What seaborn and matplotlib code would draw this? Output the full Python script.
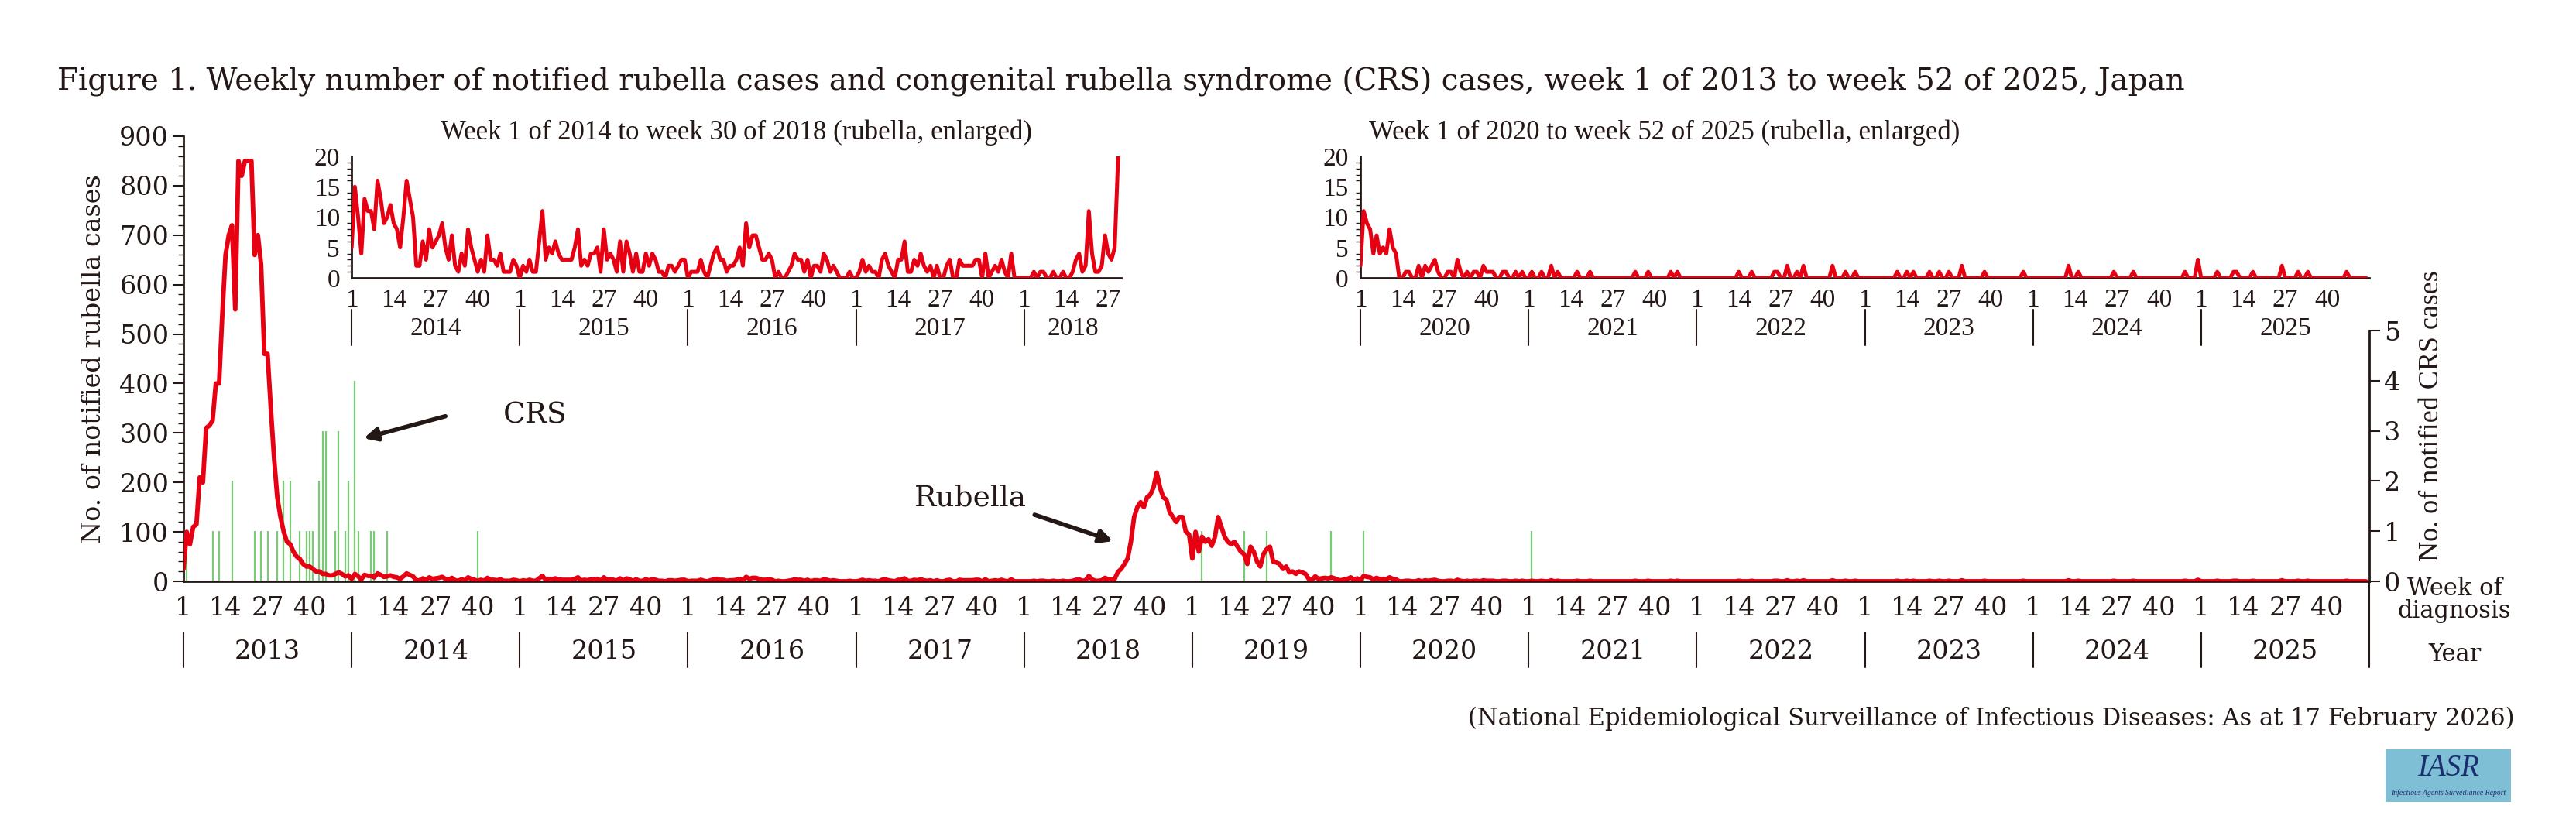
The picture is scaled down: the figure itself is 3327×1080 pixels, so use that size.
import matplotlib
matplotlib.use("Agg")
import matplotlib.pyplot as plt
import matplotlib.transforms as mtransforms
from matplotlib.patches import Rectangle
import numpy as np
import pandas as pd
import seaborn as sns

# weekly rubella cases (dense years)
rub_2013 = [25, 100, 75, 110, 115, 210, 200, 310, 315, 325, 400, 400, 540, 660, 700, 720, 550, 850, 820, 850,
            850, 850, 660, 700, 640, 460, 460, 350, 250, 170, 130, 100, 80, 75, 60, 50, 45, 35, 30, 30,
            25, 20, 20, 15, 15, 12, 12, 15, 18, 15, 10, 12]
rub_2014 = [5, 15, 10, 4, 13, 11, 11, 8, 16, 13, 9, 10, 12, 9, 8, 5, 10, 16, 13, 10, 2, 2, 6, 3, 8, 5,
            6, 7, 9, 5, 3, 7, 2, 1, 4, 2, 8, 5, 3, 1, 3, 1, 7, 3, 3, 2, 4, 1, 1, 1, 3, 2]
rub_2015 = [0, 2, 1, 3, 1, 1, 6, 11, 3, 5, 4, 6, 4, 3, 3, 3, 3, 5, 8, 2, 3, 2, 4, 4, 5, 1,
            8, 3, 4, 3, 1, 6, 1, 6, 4, 1, 4, 1, 1, 4, 2, 4, 3, 1, 1, 0, 2, 2, 1, 2, 3, 3]
rub_2016 = [0, 1, 1, 1, 3, 1, 0, 2, 4, 5, 3, 3, 1, 2, 2, 3, 5, 2, 9, 5, 7, 7, 5, 3, 3, 4,
            3, 0, 1, 0, 0, 1, 2, 4, 3, 3, 1, 3, 0, 2, 2, 1, 4, 3, 1, 2, 1, 0, 0, 0, 1, 0]
rub_2017 = [0, 1, 3, 1, 2, 1, 1, 0, 3, 4, 2, 1, 0, 3, 3, 6, 1, 1, 3, 2, 4, 2, 1, 2, 0, 2,
            0, 0, 2, 3, 0, 0, 3, 2, 2, 2, 2, 3, 3, 0, 4, 0, 1, 2, 1, 3, 1, 0, 4, 0, 0, 0]
rub_2018 = [0, 0, 0, 1, 0, 1, 1, 0, 0, 1, 0, 0, 1, 0, 0, 1, 3, 4, 1, 2, 11, 4, 1, 1, 2, 7,
            4, 3, 5, 19, 25, 35, 46, 80, 130, 150, 160, 150, 170, 175, 190, 220, 190, 170, 165, 140,
            130, 120, 130, 130, 100, 95]
rub_2019 = [46, 100, 60, 90, 80, 85, 72, 90, 130, 110, 90, 80, 75, 80, 70, 60, 55, 35, 70, 60,
            40, 30, 55, 65, 70, 40, 38, 35, 25, 30, 18, 20, 15, 20, 18, 15, 5, 3, 10, 5,
            6, 7, 6, 8, 6, 3, 2, 4, 5, 8, 3, 6]
rub_2020 = [2, 11, 9, 8, 4, 7, 4, 5, 4, 8, 5, 4, 0, 0, 1, 1, 0, 0, 2, 0, 2, 1, 2, 3, 1, 0,
            0, 1, 1, 0, 3, 1, 0, 1, 0, 1, 1, 0, 2, 1, 1, 1, 0, 0, 1, 1, 0, 0, 1, 0, 1, 0]
# sparse years: {week: cases}, other weeks 0
rub_2021 = {2: 1, 5: 1, 8: 2, 10: 1, 16: 1, 20: 1, 34: 1, 38: 1, 45: 1, 47: 1}
rub_2022 = {14: 1, 18: 1, 25: 1, 26: 1, 29: 2, 32: 1, 34: 2, 43: 2, 47: 1, 50: 1}
rub_2023 = {11: 1, 14: 1, 16: 1, 21: 1, 24: 1, 27: 1, 31: 2, 38: 1, 50: 1}
rub_2024 = {12: 2, 15: 1, 26: 1, 32: 1, 48: 1, 52: 3}
rub_2025 = {6: 1, 11: 1, 12: 1, 17: 1, 26: 2, 31: 1, 34: 1, 46: 1}

# CRS cases: (year, week, cases)
crs_year = [2013] * 21 + [2014] * 6 + [2019] * 4 + [2020, 2021]
crs_week = [2, 10, 12, 16, 23, 25, 27, 30, 32, 34, 37, 39, 40, 41, 43, 44, 45, 48, 49, 51, 52,
            2, 3, 7, 8, 12, 40, 4, 17, 24, 44, 2, 2]
crs_cases = [1, 1, 1, 2, 1, 1, 1, 1, 2, 2, 1, 1, 1, 1, 2, 3, 3, 1, 3, 1, 2,
             4, 1, 1, 1, 1, 1, 1, 1, 1, 1, 1, 1]

week_ticks = [1, 14, 27, 40]

dense = {2013: rub_2013, 2014: rub_2014, 2015: rub_2015, 2016: rub_2016, 2017: rub_2017,
         2018: rub_2018, 2019: rub_2019, 2020: rub_2020}
sparse = {2021: rub_2021, 2022: rub_2022, 2023: rub_2023, 2024: rub_2024, 2025: rub_2025}
rows = []
for yr, vals in dense.items():
    for i, v in enumerate(vals):
        rows.append((yr + i / 52, v))
for yr, d in sparse.items():
    for w in range(1, 53):
        rows.append((yr + (w - 1) / 52, d.get(w, 0)))
df = pd.DataFrame(rows, columns=["x", "cases"])
crs = pd.DataFrame({"x": [y + (w - 1) / 52 for y, w in zip(crs_year, crs_week)], "cases": crs_cases})

sns.set_style("white")
plt.rcParams["font.family"] = ["DejaVu Serif"]
RED = "#e60012"
INK = "#231815"
W, H = 3327, 1080
fig = plt.figure(figsize=(W / 100, H / 100), dpi=100)

X0, X1 = 237, 3060
def fx(px):
    return px / W
def fy(py):
    return 1 - py / H

ax = fig.add_axes([fx(X0), fy(751), fx(X1 - X0), (751 - 176) / H])
sns.lineplot(data=df, x="x", y="cases", ax=ax, color=RED, lw=4.2, zorder=3)
ax.set_xlim(2013, 2026)
ax.set_ylim(0, 900)
ax.set_yticks(range(0, 901, 100))
ax.set_yticks(range(0, 901, 20), minor=True)
ax.tick_params(axis="y", which="major", length=10, width=1.5, labelsize=24, color=INK, labelcolor=INK)
ax.tick_params(axis="y", which="minor", length=5, width=1, color=INK, left=True)
ax.set_ylabel("No. of notified rubella cases", fontsize=24, color=INK, labelpad=12)
ax.set_xlabel("")
for s in ["top", "right"]:
    ax.spines[s].set_visible(False)
for s in ["left", "bottom"]:
    ax.spines[s].set_color(INK)
    ax.spines[s].set_linewidth(2)


def week_axis(a, years, tick_fs, lab_pad, year_y, sep0, sep1, end=None):
    a.xaxis.remove_overlapping_locs = False
    a.set_xticks(list(years))
    a.set_xticklabels([])
    a.tick_params(axis="x", which="major", length=12, width=1.5, color=INK, direction="out")
    keep = [(y, w) for y in years for w in week_ticks if end is None or y + (w - 1) / 52 < end]
    a.set_xticks([y + (w - 1) / 52 for y, w in keep], minor=True)
    a.set_xticklabels([str(w) for y, w in keep], minor=True)
    a.tick_params(axis="x", which="minor", length=0, pad=lab_pad, labelsize=tick_fs, labelcolor=INK)
    tr = mtransforms.blended_transform_factory(a.transData, fig.transFigure)
    for y in years:
        right = min(y + 1, end) if end else y + 1
        a.text((y + right) / 2, fy(year_y), str(y), transform=tr, ha="center", va="center",
               fontsize=tick_fs, color=INK)
        a.plot([y, y], [fy(sep0), fy(sep1)], transform=tr, color=INK, lw=1.5, clip_on=False)


week_axis(ax, list(range(2013, 2026)), 24, 14, 842, 817, 862)
tr = mtransforms.blended_transform_factory(ax.transData, fig.transFigure)
ax.plot([2026, 2026], [fy(751), fy(862)], transform=tr, color=INK, lw=1.5, clip_on=False)

# CRS axis
ax2 = ax.twinx()
ax2.vlines(crs["x"], 0, crs["cases"], color="#7dc97a", lw=1.6, zorder=1)
ax2.set_ylim(0, 5 * 575 / 324)
ax2.set_yticks(range(0, 6))
ax2.spines["right"].set_bounds(0, 5)
ax2.spines["right"].set_color(INK)
ax2.spines["right"].set_linewidth(2)
for s in ["top", "left", "bottom"]:
    ax2.spines[s].set_visible(False)
ax2.tick_params(axis="y", length=10, width=1.5, labelsize=24, color=INK, labelcolor=INK)
ax.set_zorder(ax2.get_zorder() + 1)
ax.patch.set_visible(False)

ax.annotate("", xy=(2014.06, 288), xytext=(2014.57, 335),
            arrowprops=dict(arrowstyle="-|>,head_width=0.5,head_length=1", lw=4, color=INK))
ax.text(2014.9, 335, "CRS", fontsize=27, color=INK, va="center", ha="left")
ax.annotate("", xy=(2018.54, 80), xytext=(2018.05, 136),
            arrowprops=dict(arrowstyle="-|>,head_width=0.5,head_length=1", lw=4, color=INK))
ax.text(2017.68, 169, "Rubella", fontsize=27, color=INK, va="center", ha="center")


def main_x(x):
    return X0 + (x - 2013) / 13 * (X1 - X0)


def inset(xa, xb, data):
    a = fig.add_axes([fx(main_x(xa)), fy(359), fx(main_x(xb) - main_x(xa)), (359 - 202) / H])
    sub = data[(data.x >= xa - 1e-9) & (data.x <= xb)]
    sns.lineplot(data=sub, x="x", y="cases", ax=a, color=RED, lw=3.6, zorder=3)
    a.set_xlim(xa, xb)
    a.set_ylim(0, 20)
    a.set_yticks(range(0, 21, 5))
    a.set_yticks(range(0, 21, 1), minor=True)
    a.tick_params(axis="y", which="major", length=8, width=1.5, labelsize=24, color=INK, labelcolor=INK, pad=3)
    a.tick_params(axis="y", which="minor", length=4, width=1, color=INK, left=True)
    for lab in a.get_yticklabels():
        lab.set_family("Liberation Serif")
    a.set_xlabel("")
    a.set_ylabel("")
    a.patch.set_visible(False)
    for s in ["top", "right"]:
        a.spines[s].set_visible(False)
    for s in ["left", "bottom"]:
        a.spines[s].set_color(INK)
        a.spines[s].set_linewidth(2)
    return a


in1 = inset(2014, 2018 + 30 / 52, df)
week_axis(in1, list(range(2014, 2019)), 24, 10, 425, 400, 446, end=2018 + 30 / 52)
in1.set_title("Week 1 of 2014 to week 30 of 2018 (rubella, enlarged)", fontsize=25, color=INK,
              family="Liberation Serif", pad=16)
in2 = inset(2020, 2026, df)
week_axis(in2, list(range(2020, 2026)), 24, 10, 425, 400, 446, end=None)
in2.set_title("Week 1 of 2020 to week 52 of 2025 (rubella, enlarged)", fontsize=25, color=INK,
              family="Liberation Serif", loc="left", x=0.008, pad=16)
for a in (in1, in2):
    for lab in a.get_xticklabels(minor=True):
        lab.set_family("Liberation Serif")
    for t in a.texts:
        t.set_family("Liberation Serif")

fig.text(fx(74), fy(106), "Figure 1. Weekly number of notified rubella cases and congenital rubella syndrome (CRS) "
         "cases, week 1 of 2013 to week 52 of 2025, Japan", fontsize=28, color=INK, va="center", ha="left")
fig.text(fx(3140), fy(537), "No. of notified CRS cases", rotation=90, fontsize=26, color=INK,
         va="center", ha="center", family="Liberation Serif")
fig.text(fx(3170), fy(775), "Week of\ndiagnosis", fontsize=22, color=INK, va="center", ha="center",
         linespacing=0.95)
fig.text(fx(3170), fy(845), "Year", fontsize=22, color=INK, va="center", ha="center")
fig.text(fx(3247), fy(928), "(National Epidemiological Surveillance of Infectious Diseases: As at 17 February 2026)",
         fontsize=22, color=INK, va="center", ha="right")
fig.patches.append(Rectangle((fx(3081), fy(1036)), fx(162), (1036 - 968) / H, transform=fig.transFigure,
                             facecolor="#7fbfd6", edgecolor="none"))
fig.text(fx(3162), fy(992), "IASR", fontsize=28, color="#1b2f6e", style="italic", ha="center", va="center",
         family="Liberation Serif")
fig.text(fx(3162), fy(1024), "Infectious Agents Surveillance Report", fontsize=7, color="#1b2f6e",
         style="italic", ha="center", va="center", family="Liberation Serif")

fig.savefig("out.png", dpi=100)
